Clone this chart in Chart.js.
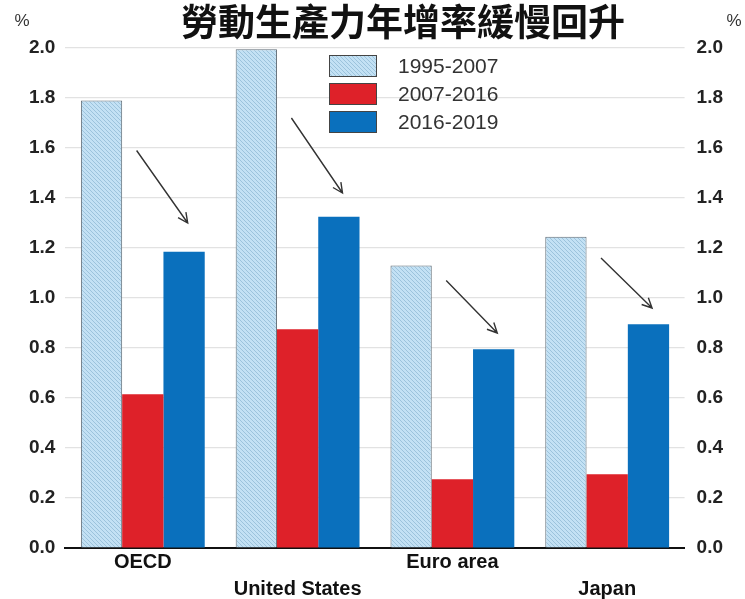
<!DOCTYPE html>
<html>
<head>
<meta charset="utf-8">
<script src="https://cdn.jsdelivr.net/npm/chart.js@4.4.1/dist/chart.umd.min.js"></script>
<style>
html,body{margin:0;padding:0;background:#fff}
#wrap{width:745px;height:599px;position:relative}
</style>
</head>
<body>
<div id="wrap"><canvas id="c"></canvas></div>
<script>
const TITLE='勞動生產力年增率緩慢回升';
const categories=['OECD','United States','Euro area','Japan'];
const labelRow=[0,1,0,1];
const seriesNames=['1995-2007','2007-2016','2016-2019'];
const v1995=[1.79,1.995,1.13,1.245];
const v2007=[0.615,0.875,0.275,0.295];
const v2016=[1.185,1.325,0.795,0.895];
const arrowFrom=[1.59,1.72,1.07,1.16];
const arrowTo=[1.30,1.42,0.86,0.96];
const yTicks=[0,0.2,0.4,0.6,0.8,1.0,1.2,1.4,1.6,1.8,2.0];

const FONT='"Liberation Sans", Arial, sans-serif';

function hatch(){
  const c=document.createElement('canvas');c.width=4;c.height=4;
  const g=c.getContext('2d');
  g.fillStyle='#c3e1f4';g.fillRect(0,0,4,4);
  g.strokeStyle='#9cc3dc';g.lineWidth=1;
  g.beginPath();
  g.moveTo(0,0);g.lineTo(4,4);
  g.moveTo(-1,3);g.lineTo(1,5);
  g.moveTo(3,-1);g.lineTo(5,1);
  g.stroke();
  return g.createPattern(c,'repeat');
}
const lightFill=hatch();
const colors=[lightFill,'#de2129','#0a70bd'];

const labels=categories.map((c,i)=>labelRow[i]?['',c]:[c]);

// title, % signs, legend box and arrows
const extras={
  id:'extras',
  afterDatasetsDraw(chart){
    const ctx=chart.ctx, x=chart.scales.x, y=chart.scales.y;
    ctx.save();
    ctx.fillStyle='#111';
    ctx.font='bold 37px "Noto Sans CJK TC", sans-serif';
    ctx.textAlign='center';ctx.textBaseline='middle';
    ctx.fillText(TITLE,403,22);
    ctx.font='17px '+FONT;ctx.fillStyle='#333';
    ctx.fillText('%',22,21);
    ctx.fillText('%',734,21);
    // legend
    const lx=329, ly=[55,83,111];
    seriesNames.forEach((n,i)=>{
      ctx.fillStyle=colors[i];
      ctx.fillRect(lx,ly[i],48,22);
      ctx.strokeStyle='#444';ctx.lineWidth=1;
      ctx.strokeRect(lx+0.5,ly[i]+0.5,47,21);
      ctx.fillStyle='#333';ctx.font='21px '+FONT;
      ctx.textAlign='left';
      ctx.fillText(n,398,ly[i]+12);
    });
    // arrows
    const step=x.getPixelForValue(1)-x.getPixelForValue(0);
    ctx.strokeStyle='#333';ctx.lineWidth=1.4;
    categories.forEach((c,i)=>{
      const cx=x.getPixelForValue(i);
      const x0=cx-0.04*step, y0=y.getPixelForValue(arrowFrom[i]);
      const x1=cx+0.29*step, y1=y.getPixelForValue(arrowTo[i]);
      const a=Math.atan2(y1-y0,x1-x0), h=11;
      ctx.beginPath();
      ctx.moveTo(x0,y0);ctx.lineTo(x1,y1);
      ctx.moveTo(x1-h*Math.cos(a-0.45),y1-h*Math.sin(a-0.45));
      ctx.lineTo(x1,y1);
      ctx.lineTo(x1-h*Math.cos(a+0.45),y1-h*Math.sin(a+0.45));
      ctx.stroke();
    });
    ctx.restore();
  }
};

const tickFont={family:FONT,size:19,weight:'bold'};
const yScale=(pos,grid)=>({
  position:pos,min:0,max:2,
  afterBuildTicks:s=>{s.ticks=yTicks.map(v=>({value:v}))},
  grid:{display:grid,color:'#e2e2e2',drawTicks:false,lineWidth:1.2},
  border:{display:false},
  ticks:{font:tickFont,color:'#222',padding:pos==='left'?10:12,callback:v=>v.toFixed(1)}
});

new Chart(document.getElementById('c'),{
  type:'bar',
  data:{
    labels:labels,
    datasets:[
      {label:seriesNames[0],data:v1995,backgroundColor:lightFill,borderColor:'#5f6b75',borderWidth:1},
      {label:seriesNames[1],data:v2007,backgroundColor:colors[1],borderWidth:0},
      {label:seriesNames[2],data:v2016,backgroundColor:colors[2],borderWidth:0}
    ]
  },
  options:{
    responsive:true,maintainAspectRatio:false,animation:false,
    layout:{padding:{top:48,left:19,right:10,bottom:-5}},
    plugins:{legend:{display:false},title:{display:false},tooltip:{enabled:false}},
    datasets:{bar:{categoryPercentage:0.8,barPercentage:1.0}},
    scales:{
      x:{
        grid:{display:false,drawTicks:false},
        border:{display:true,color:'#111',width:2},
        ticks:{font:{family:FONT,size:20,weight:'bold',lineHeight:1.35},color:'#111',padding:1,maxRotation:0,autoSkip:false}
      },
      y:yScale('left',true),
      y2:yScale('right',false)
    }
  },
  plugins:[extras]
});
</script>
</body>
</html>
